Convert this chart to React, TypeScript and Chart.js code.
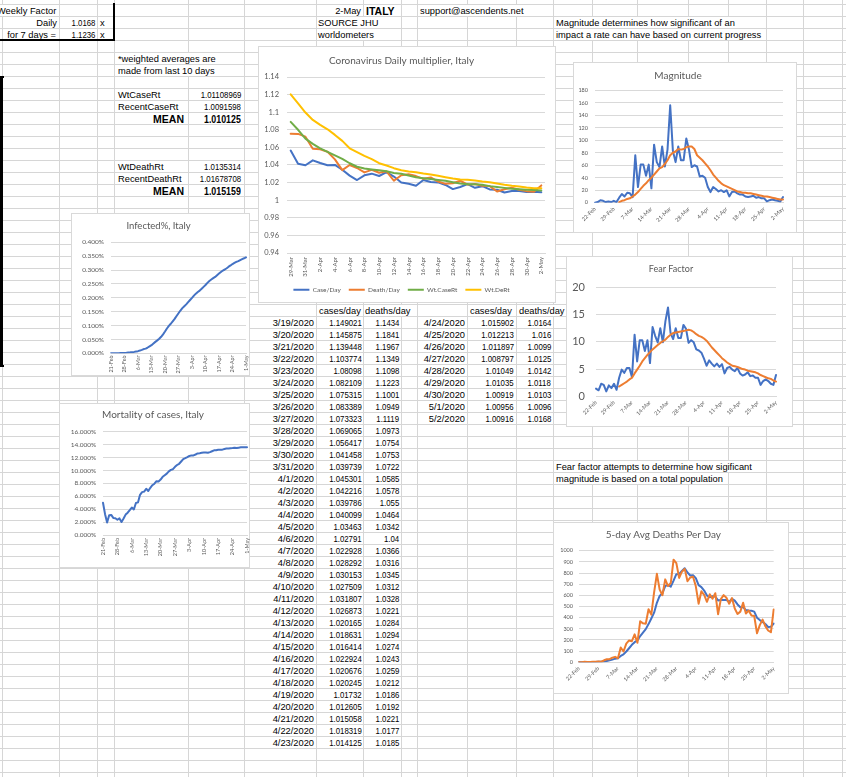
import React, { useEffect, useRef } from 'react';
import { Chart, registerables } from 'chart.js';
Chart.register(...registerables);

const FONT = "Lato, 'Open Sans', 'Liberation Sans', sans-serif";
const CELL_FONT = "'Liberation Sans', Arial, sans-serif";
Chart.defaults.font.family = FONT;

const BLUE = '#4472C4';
const ORANGE = '#ED7D31';
const GREEN = '#70AD47';
const YELLOW = '#FFC000';
const TICK = '#595959';
const GRIDC = '#d9d9d9';
const SHEET_GRID = '#d6d6d6';

// ---------------- DATA ----------------
const DATES = [
  '21-Feb', '22-Feb', '23-Feb', '24-Feb', '25-Feb', '26-Feb', '27-Feb', '28-Feb', '29-Feb',
  '1-Mar', '2-Mar', '3-Mar', '4-Mar', '5-Mar', '6-Mar', '7-Mar', '8-Mar', '9-Mar', '10-Mar',
  '11-Mar', '12-Mar', '13-Mar', '14-Mar', '15-Mar', '16-Mar', '17-Mar', '18-Mar', '19-Mar', '20-Mar',
  '21-Mar', '22-Mar', '23-Mar', '24-Mar', '25-Mar', '26-Mar', '27-Mar', '28-Mar', '29-Mar', '30-Mar', '31-Mar',
  '1-Apr', '2-Apr', '3-Apr', '4-Apr', '5-Apr', '6-Apr', '7-Apr', '8-Apr', '9-Apr', '10-Apr',
  '11-Apr', '12-Apr', '13-Apr', '14-Apr', '15-Apr', '16-Apr', '17-Apr', '18-Apr', '19-Apr', '20-Apr',
  '21-Apr', '22-Apr', '23-Apr', '24-Apr', '25-Apr', '26-Apr', '27-Apr', '28-Apr', '29-Apr', '30-Apr',
  '1-May', '2-May',
];

const TABLE_DATES = [
  '3/19/2020', '3/20/2020', '3/21/2020', '3/22/2020', '3/23/2020', '3/24/2020', '3/25/2020', '3/26/2020',
  '3/27/2020', '3/28/2020', '3/29/2020', '3/30/2020', '3/31/2020', '4/1/2020', '4/2/2020', '4/3/2020',
  '4/4/2020', '4/5/2020', '4/6/2020', '4/7/2020', '4/8/2020', '4/9/2020', '4/10/2020', '4/11/2020',
  '4/12/2020', '4/13/2020', '4/14/2020', '4/15/2020', '4/16/2020', '4/17/2020', '4/18/2020', '4/19/2020',
  '4/20/2020', '4/21/2020', '4/22/2020', '4/23/2020', '4/24/2020', '4/25/2020', '4/26/2020', '4/27/2020',
  '4/28/2020', '4/29/2020', '4/30/2020', '5/1/2020', '5/2/2020',
];
const TABLE_CASES = [
  '1.149021', '1.145875', '1.139448', '1.103774', '1.08098', '1.082109', '1.075315', '1.083389',
  '1.073323', '1.069065', '1.056417', '1.041458', '1.039739', '1.045301', '1.042216', '1.039786',
  '1.040099', '1.03463', '1.02791', '1.022928', '1.028292', '1.030153', '1.027509', '1.031807',
  '1.026873', '1.020165', '1.018631', '1.016414', '1.022924', '1.020676', '1.020245', '1.01732',
  '1.012605', '1.015058', '1.018319', '1.014125', '1.015902', '1.012213', '1.011897', '1.008797',
  '1.01049', '1.01035', '1.00919', '1.00956', '1.00916',
];
const TABLE_DEATHS = [
  '1.1434', '1.1841', '1.1967', '1.1349', '1.1098', '1.1223', '1.1001', '1.0949',
  '1.1119', '1.0973', '1.0754', '1.0753', '1.0722', '1.0585', '1.0578', '1.055',
  '1.0464', '1.0342', '1.04', '1.0366', '1.0316', '1.0345', '1.0312', '1.0328',
  '1.0221', '1.0284', '1.0294', '1.0274', '1.0243', '1.0259', '1.0212', '1.0186',
  '1.0192', '1.0221', '1.0177', '1.0185', '1.0164', '1.016', '1.0099', '1.0125',
  '1.0142', '1.0118', '1.0103', '1.0096', '1.0168',
];

// Daily multiplier chart (29-Mar .. 2-May)
const MAIN_START = TABLE_DATES.indexOf('3/29/2020');
const CASE_DAY = TABLE_CASES.slice(MAIN_START).map(Number);
const DEATH_DAY = TABLE_DEATHS.slice(MAIN_START).map(Number);
const WT_CASE = [1.089, 1.080, 1.070, 1.064, 1.059, 1.055, 1.051, 1.047, 1.042, 1.038, 1.036, 1.035, 1.034, 1.033,
  1.031, 1.030, 1.028, 1.026, 1.025, 1.024, 1.023, 1.022, 1.0205, 1.019, 1.018, 1.018, 1.0175, 1.016, 1.015, 1.014,
  1.013, 1.0125, 1.012, 1.0115, 1.0111];
const WT_DEATH = [1.1203, 1.110, 1.0996, 1.0912, 1.0856, 1.0806, 1.0742, 1.0674, 1.059, 1.0546, 1.0504, 1.0466,
  1.042, 1.0394, 1.0364, 1.034, 1.0326, 1.0318, 1.0303, 1.0292, 1.0277, 1.0262, 1.0247, 1.0236, 1.0232, 1.0224,
  1.0213, 1.0205, 1.019, 1.0175, 1.0164, 1.0156, 1.0145, 1.0137, 1.0135];

// Magnitude (22-Feb .. 2-May)
const MAG_DAILY = [0, 1, 4, 3, 1, 2, 1, 3, 1, 8, 14, 10, 16, 15, 9, 76, 25, 61, 61, 43, 61, 23, 93, 65, 57, 90, 58, 85,
  156, 83, 65, 90, 68, 68, 103, 85, 57, 60, 58, 42, 43, 40, 25, 17, 25, 22, 18, 20, 17, 20, 10, 17, 18, 15, 13, 13, 10,
  9, 10, 11, 8, 9, 7, 7, 2, 4, 5, 4, 3, 2, 9];
const MAG_AVG = [null, null, null, null, null, null, null, null, null, 1, 3, 4, 6, 7, 10, 13, 17, 22, 27, 31, 36, 40,
  45, 50, 55, 57, 62, 68, 76, 80, 82, 86, 85, 86, 89, 90, 90, 86, 76, 72, 68, 63, 58, 52, 45, 40, 35, 31, 28, 26, 24,
  22, 20, 18, 17, 16, 16, 15, 15, 14, 13, 12, 11, 10, 10, 9, 8, 7, 6, 5, 5];

// Fear factor (22-Feb .. 2-May)
const FEAR_DAILY = [1.4, 1.1, 2.3, 2.1, 0.9, 2.0, 1.5, 2.3, 1.2, 3.4, 4.9, 4.3, 5.2, 5.2, 3.5, 11.3, 6.4, 10.3, 10.3,
  8.3, 10.3, 6.1, 12.7, 11.1, 9.9, 12.5, 9.9, 13.8, 16.3, 11.6, 10.5, 12.5, 10.7, 10.7, 13.1, 12.4, 9.8, 10.3, 9.9,
  8.6, 8.4, 8.0, 6.9, 5.6, 6.6, 6.0, 5.5, 6.0, 5.4, 5.9, 4.2, 5.2, 5.4, 4.9, 4.6, 5.2, 4.2, 3.8, 4.0, 4.4, 3.7, 3.8,
  3.4, 3.4, 2.1, 2.8, 3.1, 2.8, 2.3, 2.1, 3.9];
const FEAR_AVG = [null, null, null, null, null, null, null, null, null, 1.8, 2.1, 2.4, 2.7, 3.1, 3.4, 4.2, 4.9, 5.6,
  6.4, 7.0, 7.6, 8.1, 8.6, 9.0, 9.4, 9.8, 10.1, 10.4, 10.9, 11.3, 11.6, 11.7, 11.8, 11.9, 12.0, 12.1, 12.2, 12.1,
  11.8, 11.4, 11.1, 10.9, 10.6, 10.2, 9.6, 9.0, 8.5, 8.0, 7.5, 7.0, 6.6, 6.2, 5.9, 5.6, 5.5, 5.4, 5.2, 5.0, 4.9, 4.7,
  4.6, 4.5, 4.4, 4.2, 3.9, 3.7, 3.5, 3.3, 3.2, 2.9, 2.7];

// Infected % of population (21-Feb .. 1-May)
const INFECTED = [0.0000, 0.0001, 0.0003, 0.0004, 0.0005, 0.0008, 0.0011, 0.0015, 0.0019,
  0.0028, 0.0034, 0.0042, 0.0051, 0.0064, 0.0077, 0.0098, 0.0123, 0.0153, 0.0169,
  0.0208, 0.0252, 0.0294, 0.0353, 0.0412, 0.0466, 0.0525, 0.0595, 0.0684, 0.0784,
  0.0893, 0.0986, 0.1065, 0.1153, 0.1240, 0.1343, 0.1442, 0.1541, 0.1628, 0.1696, 0.1763,
  0.1843, 0.1921, 0.1997, 0.2077, 0.2149, 0.2209, 0.2260, 0.2324, 0.2394, 0.2460,
  0.2538, 0.2606, 0.2659, 0.2708, 0.2753, 0.2816, 0.2874, 0.2932, 0.2983, 0.3020,
  0.3066, 0.3122, 0.3166, 0.3217, 0.3256, 0.3295, 0.3324, 0.3358, 0.3393, 0.3424,
  0.3457];

// Mortality of cases % (21-Feb .. 1-May)
const MORTALITY = [5.00, 3.23, 1.94, 3.06, 3.11, 2.65, 2.60, 2.36, 2.57,
  2.01, 2.55, 3.16, 3.46, 3.84, 4.25, 3.96, 4.96, 5.05, 6.22,
  6.64, 6.72, 7.17, 6.81, 7.31, 7.71, 7.94, 8.34, 8.30, 8.58,
  9.01, 9.26, 9.51, 9.86, 10.09, 10.19, 10.56, 10.84, 11.03, 11.39, 11.75,
  11.90, 12.07, 12.25, 12.33, 12.32, 12.47, 12.63, 12.67, 12.73, 12.77,
  12.78, 12.73, 12.83, 12.97, 13.11, 13.12, 13.19, 13.20, 13.22, 13.31,
  13.40, 13.39, 13.45, 13.46, 13.51, 13.48, 13.53, 13.58, 13.60, 13.61,
  13.61];

// Deaths per day (22-Feb .. 2-May)
const DEATHS_DAILY = [1, 1, 4, 3, 2, 5, 4, 8, 5, 18, 27, 28, 41, 49, 36, 133, 97, 168, 196, 189, 250, 175, 368, 349,
  345, 475, 427, 627, 793, 651, 601, 743, 683, 712, 919, 889, 756, 812, 837, 727, 760, 766, 681, 525, 636, 604, 542,
  610, 570, 619, 431, 566, 602, 578, 525, 575, 482, 433, 454, 534, 437, 464, 420, 415, 260, 333, 382, 323, 285, 269, 474];
const DEATHS_AVG5 = [0.4, 0.6, 1.4, 2.0, 2.2, 3.0, 3.6, 4.4, 4.8, 8.0, 12.4, 17.2, 23.8, 32.6, 36.2, 57.4, 71.2, 96.6,
  126, 156.6, 180, 195.6, 235.6, 266.2, 297.4, 342.4, 392.8, 444.6, 533.4, 594.6, 619.8, 683, 694.2, 678, 731.6, 789.2,
  791.8, 817.6, 842.6, 804.2, 778.4, 780.4, 754.2, 691.8, 673.6, 642.4, 597.6, 583.4, 592.4, 589, 554.4, 559.2, 557.6,
  559.2, 540.4, 569.2, 552.4, 518.6, 493.8, 495.6, 468, 464.4, 461.8, 454, 399.2, 378.4, 362, 342.6, 316.6, 318.4, 346.6];

const MAIN_LABELS = DATES.slice(DATES.indexOf('29-Mar'));
const FROM_21FEB = DATES.slice(0, 71);
const FROM_22FEB = DATES.slice(1, 72);

// ---------------- CHART HELPERS ----------------
const ds = (label: string, data: any[], color: string, width = 2, order = 0) => ({
  label, data, borderColor: color, backgroundColor: color, borderWidth: width,
  pointRadius: 0, pointHoverRadius: 0, tension: 0, fill: false, order,
  borderJoinStyle: 'round', borderCapStyle: 'round',
});

interface Spec {
  labels: string[]; datasets: any[];
  title: string; titleSize: number; titleTop: number; titleBottom: number;
  yMin: number; yMax: number; yStep: number; yFmt: (v: number) => string; yFont: number; yWidth: number; yPad: number;
  xHeight: number; xRot: number; xEvery: number; xFont: number; xPad: number; xOffset: boolean;
  padRight: number; legend?: boolean;
}

function makeConfig(s: Spec): any {
  return {
    type: 'line',
    data: { labels: s.labels, datasets: s.datasets },
    options: {
      responsive: false,
      animation: false,
      events: [],
      layout: { padding: { left: 0, right: s.padRight, top: 0, bottom: 0 } },
      plugins: {
        tooltip: { enabled: false },
        title: {
          display: true, text: s.title, color: '#595959',
          font: { family: FONT, size: s.titleSize, weight: 'normal', lineHeight: 1.2 },
          padding: { top: s.titleTop, bottom: s.titleBottom },
        },
        legend: s.legend ? {
          display: true, position: 'bottom',
          labels: {
            usePointStyle: true, pointStyle: 'line', pointStyleWidth: 16, padding: 8,
            color: TICK, font: { family: FONT, size: 6.5 },
            sort: (a: any, b: any) => a.datasetIndex - b.datasetIndex,
          },
        } : { display: false },
      },
      scales: {
        x: {
          type: 'category', offset: s.xOffset,
          grid: { display: false, drawTicks: false },
          border: { display: true, color: GRIDC, width: 1 },
          ticks: {
            autoSkip: false, maxRotation: s.xRot, minRotation: s.xRot, padding: s.xPad,
            color: TICK, font: { family: FONT, size: s.xFont },
            callback: function (this: any, v: any, i: number) {
              return i % s.xEvery === 0 ? this.getLabelForValue(v) : '';
            },
          },
          afterFit: (sc: any) => { sc.height = s.xHeight; sc.paddingLeft = 0; sc.paddingRight = 0; },
        },
        y: {
          min: s.yMin, max: s.yMax,
          grid: { color: GRIDC, drawTicks: false, lineWidth: 1 },
          border: { display: false },
          ticks: {
            stepSize: s.yStep, padding: s.yPad, color: TICK,
            font: { family: FONT, size: s.yFont },
            callback: (v: any) => s.yFmt(Number(v)),
          },
          afterFit: (sc: any) => { sc.width = s.yWidth; sc.paddingTop = 0; sc.paddingBottom = 0; },
        },
      },
    },
  };
}

const fmtGeneral = (v: number) => String(parseFloat(v.toFixed(2)));
const fmtInt = (v: number) => String(Math.round(v));
const fmtPct3 = (v: number) => v.toFixed(3) + '%';

function ChartBox({ left, top, width, height, spec }: { left: number; top: number; width: number; height: number; spec: Spec }) {
  const ref = useRef<HTMLCanvasElement>(null);
  useEffect(() => {
    const chart = new Chart(ref.current as HTMLCanvasElement, makeConfig(spec));
    return () => chart.destroy();
  }, []);
  return (
    <div style={{ position: 'absolute', left, top, width, height, background: '#fff', border: '1px solid #d9d9d9', boxSizing: 'border-box' }}>
      <canvas ref={ref} width={width} height={height} style={{ position: 'absolute', left: -1, top: -1, width, height }} />
    </div>
  );
}

// ---------------- SPECS ----------------
const mainSpec: Spec = {
  labels: MAIN_LABELS,
  datasets: [
    ds('Case/Day', CASE_DAY, BLUE, 2, 0),
    ds('Death/Day', DEATH_DAY, ORANGE, 2, -1),
    ds('Wt.CaseRt', WT_CASE, GREEN, 2, -2),
    ds('Wt.DeRt', WT_DEATH, YELLOW, 2, -3),
  ],
  title: 'Coronavirus Daily multiplier, Italy', titleSize: 10, titleTop: 9, titleBottom: 10,
  yMin: 0.94, yMax: 1.14, yStep: 0.02, yFmt: fmtGeneral, yFont: 7.5, yWidth: 29, yPad: 8,
  xHeight: 25.5, xRot: 90, xEvery: 2, xFont: 6, xPad: 4, xOffset: true, padRight: 11, legend: true,
};

const magSpec: Spec = {
  labels: FROM_22FEB,
  datasets: [ds('Magnitude', MAG_DAILY, BLUE, 2, 0), ds('Avg', MAG_AVG, ORANGE, 2, -1)],
  title: 'Magnitude', titleSize: 10, titleTop: 8, titleBottom: 8.3,
  yMin: 0, yMax: 180, yStep: 20, yFmt: fmtInt, yFont: 5.5, yWidth: 22, yPad: 7,
  xHeight: 30.3, xRot: 45, xEvery: 7, xFont: 5.5, xPad: 3, xOffset: false, padRight: 14,
};

const fearSpec: Spec = {
  labels: FROM_22FEB,
  datasets: [ds('Fear', FEAR_DAILY, BLUE, 2, 0), ds('Avg', FEAR_AVG, ORANGE, 2, -1)],
  title: 'Fear Factor', titleSize: 9, titleTop: 7.6, titleBottom: 12.9,
  yMin: 0, yMax: 20, yStep: 5, yFmt: fmtInt, yFont: 11, yWidth: 30, yPad: 11,
  xHeight: 30.7, xRot: 45, xEvery: 7, xFont: 5.5, xPad: 3, xOffset: false, padRight: 17,
};

const infSpec: Spec = {
  labels: FROM_21FEB,
  datasets: [ds('Infected%', INFECTED, BLUE, 2, 0)],
  title: 'Infected%, Italy', titleSize: 9.5, titleTop: 7.3, titleBottom: 10.6,
  yMin: 0, yMax: 0.4, yStep: 0.05, yFmt: fmtPct3, yFont: 6.5, yWidth: 40, yPad: 7,
  xHeight: 22.7, xRot: 90, xEvery: 7, xFont: 5.5, xPad: 2, xOffset: false, padRight: 4,
};

const mortSpec: Spec = {
  labels: FROM_21FEB,
  datasets: [ds('Mortality', MORTALITY, BLUE, 2, 0)],
  title: 'Mortality of cases, Italy', titleSize: 10, titleTop: 6, titleBottom: 10.7,
  yMin: 0, yMax: 16, yStep: 2, yFmt: fmtPct3, yFont: 6.5, yWidth: 44, yPad: 6.7,
  xHeight: 33, xRot: 90, xEvery: 7, xFont: 5.5, xPad: 3, xOffset: false, padRight: 3,
};

const deathSpec: Spec = {
  labels: FROM_22FEB,
  datasets: [ds('5-day Avg', DEATHS_AVG5, BLUE, 2, 0), ds('Deaths', DEATHS_DAILY, ORANGE, 2, -1)],
  title: '5-day Avg Deaths Per Day', titleSize: 10, titleTop: 7, titleBottom: 9.7,
  yMin: 0, yMax: 1000, yStep: 100, yFmt: fmtInt, yFont: 5.5, yWidth: 26, yPad: 6,
  xHeight: 31.7, xRot: 45, xEvery: 7, xFont: 5.5, xPad: 3, xOffset: false, padRight: 15.3,
};

// ---------------- SHEET ----------------
const W = 846;
const H = 777;
const ROW0 = 4;
const ROWH = 12;
const COLS = [2, 59, 97, 114, 188, 244, 316, 363, 401, 417, 467, 516, 553, 592, 637, 688, 728, 766, 803, 842];

function Cell({ row, x, text, right = false, bold = false, num = false, size }: {
  row: number; x: number; text: string; right?: boolean; bold?: boolean; num?: boolean; size?: number;
}) {
  const style: React.CSSProperties = {
    position: 'absolute', top: ROW0 + row * ROWH + 1, height: 11, lineHeight: '13px',
    fontSize: size ?? (bold ? 10.5 : 9.3), fontFamily: CELL_FONT, fontWeight: bold ? 'bold' : 'normal',
    whiteSpace: 'nowrap', color: '#000', background: '#fff',
  };
  if (right) style.right = W - x; else style.left = x;
  return (
    <div style={style}>
      <span style={{ display: 'inline-block', transform: num ? 'scaleX(0.84)' : undefined, transformOrigin: 'right center' }}>{text}</span>
    </div>
  );
}

export default function App() {
  const rows: number[] = [];
  for (let y = ROW0; y < H; y += ROWH) rows.push(y);
  const block1 = 36;
  return (
    <div style={{ position: 'fixed', left: 0, top: 0, width: W, height: H, overflow: 'hidden', background: '#fff' }}>
      {rows.map((y) => (
        <div key={'r' + y} style={{ position: 'absolute', left: 0, top: y, width: W, height: 1, background: SHEET_GRID }} />
      ))}
      {COLS.map((x) => (
        <div key={'c' + x} style={{ position: 'absolute', left: x, top: 0, width: 1, height: H, background: SHEET_GRID }} />
      ))}

      {/* top-left block */}
      <Cell row={0} x={-3} text="Weekly Factor" />
      <Cell row={1} x={57} text="Daily" right />
      <Cell row={1} x={95} text="1.0168" right num />
      <Cell row={1} x={100} text="x" />
      <Cell row={2} x={56} text="for 7 days =" right />
      <Cell row={2} x={95} text="1.1236" right num />
      <Cell row={2} x={100} text="x" />

      <Cell row={0} x={361} text="2-May" right />
      <Cell row={0} x={366} text="ITALY" bold />
      <Cell row={0} x={420} text="support@ascendents.net" />
      <Cell row={1} x={318} text="SOURCE JHU" />
      <Cell row={2} x={318} text="worldometers" />
      <Cell row={1} x={556} text="Magnitude determines how significant of an" />
      <Cell row={2} x={556} text="impact a rate can have based on current progress" />

      <Cell row={4} x={118} text="*weighted averages are" />
      <Cell row={5} x={118} text="made from last 10 days" />
      <Cell row={7} x={118} text="WtCaseRt" />
      <Cell row={7} x={241} text="1.01108969" right num />
      <Cell row={8} x={118} text="RecentCaseRt" />
      <Cell row={8} x={241} text="1.0091598" right num />
      <Cell row={9} x={184} text="MEAN" right bold />
      <Cell row={9} x={241} text="1.010125" right bold num />
      <Cell row={13} x={118} text="WtDeathRt" />
      <Cell row={13} x={241} text="1.0135314" right num />
      <Cell row={14} x={118} text="RecentDeathRt" />
      <Cell row={14} x={241} text="1.01678708" right num />
      <Cell row={15} x={184} text="MEAN" right bold />
      <Cell row={15} x={241} text="1.015159" right bold num />

      <Cell row={38} x={556} text="Fear factor attempts to determine how sigificant" />
      <Cell row={39} x={556} text="magnitude is based on a total population" />

      {/* table */}
      <Cell row={25} x={319} text="cases/day" />
      <Cell row={25} x={365} text="deaths/day" />
      <Cell row={25} x={470} text="cases/day" />
      <Cell row={25} x={519} text="deaths/day" />
      {TABLE_DATES.map((d, i) => {
        const first = i < block1;
        const row = 26 + (first ? i : i - block1);
        return (
          <React.Fragment key={'t' + i}>
            <Cell row={row} x={first ? 314 : 465} text={d} right />
            <Cell row={row} x={first ? 361.5 : 514} text={TABLE_CASES[i]} right num />
            <Cell row={row} x={first ? 399 : 551} text={TABLE_DEATHS[i]} right num />
          </React.Fragment>
        );
      })}

      {/* thick borders */}
      <div style={{ position: 'absolute', left: 113, top: 3, width: 2, height: 38, background: '#000' }} />
      <div style={{ position: 'absolute', left: 0, top: 39, width: 115, height: 2, background: '#000' }} />
      <div style={{ position: 'absolute', left: 0, top: 76, width: 2.5, height: 291, background: '#000' }} />
      <div style={{ position: 'absolute', left: 0, top: 76, width: 3.5, height: 1.5, background: '#000' }} />
      <div style={{ position: 'absolute', left: 0, top: 365, width: 3.5, height: 1.5, background: '#000' }} />

      {/* charts */}
      <ChartBox left={258} top={46} width={298} height={257} spec={mainSpec} />
      <ChartBox left={573} top={62} width={224} height={171} spec={magSpec} />
      <ChartBox left={566} top={256} width={227} height={171} spec={fearSpec} />
      <ChartBox left={71} top={213} width={179} height={163} spec={infSpec} />
      <ChartBox left={59} top={403} width={191} height={165} spec={mortSpec} />
      <ChartBox left={553} top={522} width={236} height={172} spec={deathSpec} />
    </div>
  );
}
